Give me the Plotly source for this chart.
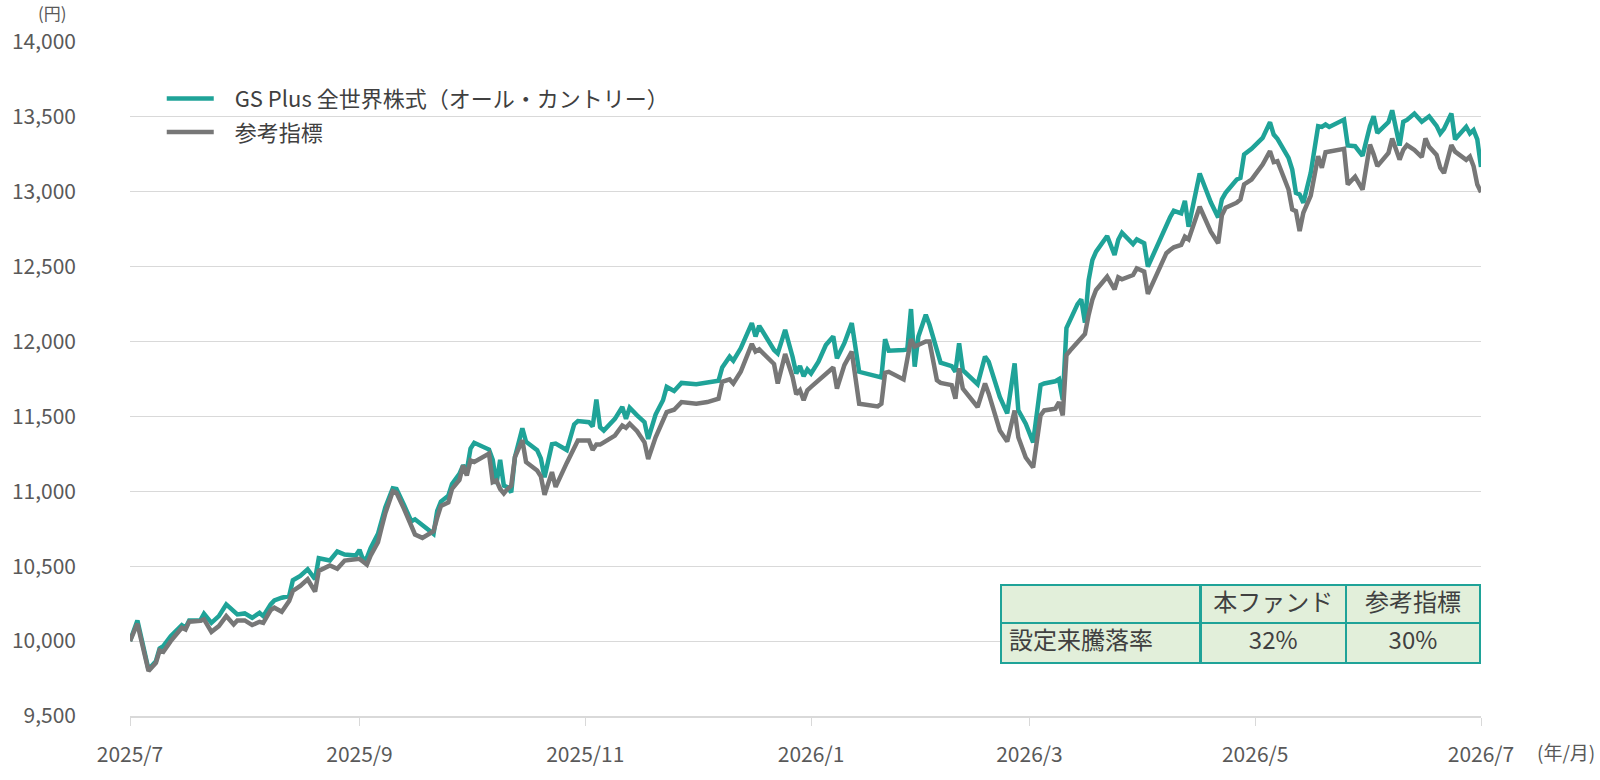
import plotly.graph_objects as go

dates = [
    "2025-07-01","2025-07-03","2025-07-06","2025-07-08","2025-07-09","2025-07-10","2025-07-12","2025-07-15",
    "2025-07-16","2025-07-17","2025-07-20","2025-07-21","2025-07-23","2025-07-25","2025-07-27","2025-07-29",
    "2025-07-30","2025-08-01","2025-08-03","2025-08-05","2025-08-06","2025-08-08","2025-08-09","2025-08-11",
    "2025-08-13","2025-08-14","2025-08-16","2025-08-18","2025-08-20","2025-08-21","2025-08-24","2025-08-26",
    "2025-08-28","2025-08-31","2025-09-01","2025-09-02","2025-09-03","2025-09-04","2025-09-06","2025-09-07",
    "2025-09-08","2025-09-10","2025-09-11","2025-09-13","2025-09-15","2025-09-16","2025-09-18","2025-09-21",
    "2025-09-22","2025-09-23","2025-09-25","2025-09-26","2025-09-28","2025-09-29","2025-09-30","2025-10-01",
    "2025-10-02","2025-10-06","2025-10-07","2025-10-08","2025-10-09","2025-10-10","2025-10-11","2025-10-12",
    "2025-10-13","2025-10-15","2025-10-16","2025-10-19","2025-10-20","2025-10-21","2025-10-23","2025-10-24",
    "2025-10-27","2025-10-29","2025-10-30","2025-11-02","2025-11-03","2025-11-04","2025-11-05","2025-11-06",
    "2025-11-09","2025-11-11","2025-11-12","2025-11-13","2025-11-15","2025-11-17","2025-11-18","2025-11-20",
    "2025-11-22","2025-11-23","2025-11-25","2025-11-27","2025-12-01","2025-12-04","2025-12-07","2025-12-08",
    "2025-12-10","2025-12-11","2025-12-13","2025-12-16","2025-12-17","2025-12-18","2025-12-22","2025-12-23",
    "2025-12-25","2025-12-27","2025-12-28","2025-12-29","2025-12-30","2025-12-31","2026-01-01","2026-01-03",
    "2026-01-05","2026-01-07","2026-01-08","2026-01-10","2026-01-12","2026-01-14","2026-01-19","2026-01-20",
    "2026-01-21","2026-01-22","2026-01-26","2026-01-27","2026-01-28","2026-01-29","2026-01-30","2026-02-01",
    "2026-02-02","2026-02-04","2026-02-05","2026-02-08","2026-02-09","2026-02-10","2026-02-11","2026-02-15",
    "2026-02-17","2026-02-18","2026-02-21","2026-02-23","2026-02-25","2026-02-26","2026-02-28","2026-03-02",
    "2026-03-04","2026-03-05","2026-03-08","2026-03-09","2026-03-10","2026-03-11","2026-03-12","2026-03-14",
    "2026-03-15","2026-03-16","2026-03-17","2026-03-18","2026-03-19","2026-03-22","2026-03-24","2026-03-25",
    "2026-03-26","2026-03-29","2026-03-30","2026-04-01","2026-04-02","2026-04-07","2026-04-08","2026-04-09",
    "2026-04-11","2026-04-12","2026-04-13","2026-04-16","2026-04-19","2026-04-21","2026-04-22","2026-04-23",
    "2026-04-26","2026-04-27","2026-04-28","2026-04-30","2026-05-03","2026-05-05","2026-05-06","2026-05-07",
    "2026-05-10","2026-05-11","2026-05-12","2026-05-13","2026-05-14","2026-05-16","2026-05-18","2026-05-19",
    "2026-05-20","2026-05-21","2026-05-23","2026-05-25","2026-05-26","2026-05-28","2026-05-30","2026-06-01",
    "2026-06-02","2026-06-03","2026-06-06","2026-06-07","2026-06-09","2026-06-10","2026-06-11","2026-06-13",
    "2026-06-15","2026-06-16","2026-06-17","2026-06-19","2026-06-20","2026-06-21","2026-06-23","2026-06-24",
    "2026-06-27","2026-06-28","2026-06-29","2026-06-30","2026-07-01",
]

fund = [
    10000,10138,9810,9866,9951,9966,10033,10107,
    10089,10138,10138,10183,10122,10167,10245,10205,
    10178,10185,10156,10189,10167,10245,10272,10290,
    10301,10406,10435,10480,10413,10553,10538,10598,
    10578,10571,10609,10542,10556,10620,10716,10805,
    10894,11020,11016,10910,10800,10813,10775,10716,
    10869,10932,10971,11049,11117,11173,11139,11286,
    11324,11279,11211,11049,11211,11038,11027,10993,
    11229,11421,11331,11275,11220,11094,11315,11319,
    11276,11447,11469,11462,11433,11612,11428,11406,
    11484,11563,11484,11558,11507,11462,11350,11513,
    11608,11697,11670,11724,11715,11724,11738,11827,
    11899,11872,11955,12123,12034,12105,11944,11921,
    12078,11899,11787,11836,11769,11814,11787,11865,
    11977,12034,11888,11989,12123,11798,11765,11760,
    12016,11939,11944,11948,12217,11832,12034,12179,
    12112,11933,11859,11836,11798,11989,11809,11715,
    11899,11865,11630,11520,11854,11540,11451,11327,
    11709,11720,11735,11749,11611,12090,12140,12250,
    12282,12127,12411,12544,12600,12705,12578,12680,
    12727,12651,12682,12656,12500,12789,12830,12873,
    12856,12940,12767,13122,12930,12829,12949,12993,
    13082,13093,13249,13287,13360,13464,13382,13353,
    13226,13149,12993,12982,12927,13126,13438,13433,
    13449,13433,13460,13482,13309,13304,13240,13438,
    13504,13393,13465,13544,13308,13467,13480,13522,
    13467,13485,13504,13440,13389,13420,13522,13350,
    13434,13389,13412,13350,13165,
]

benchmark = [
    10000,10116,9800,9855,9937,9928,10000,10089,
    10078,10130,10135,10145,10062,10100,10167,10111,
    10138,10138,10107,10129,10122,10207,10223,10196,
    10268,10335,10368,10413,10330,10469,10505,10483,
    10538,10542,10549,10530,10511,10571,10660,10760,
    10855,11000,10990,10885,10760,10712,10689,10734,
    10824,10903,10926,11016,11076,11173,11106,11207,
    11196,11252,11061,11072,11016,10986,11016,11038,
    11229,11342,11196,11139,11100,10977,11128,11030,
    11190,11300,11339,11339,11276,11312,11312,11327,
    11372,11440,11424,11451,11401,11327,11215,11361,
    11473,11529,11545,11596,11585,11596,11619,11731,
    11747,11720,11798,11984,11933,11948,11850,11720,
    11917,11765,11648,11675,11608,11675,11697,11738,
    11787,11827,11686,11843,11933,11585,11567,11585,
    11791,11798,11747,11899,12016,11966,11978,12000,
    12000,11742,11724,11709,11619,11821,11686,11563,
    11720,11652,11406,11333,11540,11361,11226,11159,
    11507,11540,11552,11596,11507,11910,11940,12000,
    12030,12050,12178,12280,12344,12433,12349,12429,
    12416,12444,12489,12467,12318,12590,12611,12629,
    12645,12700,12682,12900,12733,12656,12844,12893,
    12927,12949,13049,13082,13182,13271,13198,13204,
    13015,12882,12871,12738,12860,12975,13238,13160,
    13264,13270,13278,13287,13049,13100,13015,13315,
    13250,13171,13260,13356,13215,13280,13312,13279,
    13231,13356,13300,13246,13160,13125,13312,13268,
    13213,13235,13170,13048,12997,
]

series_names = ["GS Plus 全世界株式（オール・カントリー）", "参考指標"]
table_header = ["", "本ファンド", "参考指標"]
table_row_label = ["設定来騰落率"]
table_fund = ["32%"]
table_bench = ["30%"]

FONT = "Noto Sans CJK JP"
TEAL = "#1FA398"
GRAY = "#777777"
TXT = "#595959"
DARK = "#404040"
LEGEND_PAD = "\u2002\u00a0"

fig = go.Figure()
fig.add_trace(go.Scatter(x=dates, y=fund, name=LEGEND_PAD + series_names[0], mode="lines",
                         line=dict(color=TEAL, width=4.5), legendgroup="a"))
fig.add_trace(go.Scatter(x=dates, y=benchmark, name=LEGEND_PAD + series_names[1], mode="lines",
                         line=dict(color=GRAY, width=4.5), legendgroup="b"))

fig.add_trace(go.Table(
    domain=dict(x=[0.6448, 1.0], y=[0.06, 0.194]),
    columnwidth=[202, 147, 136],
    header=dict(values=table_header, fill_color="#E2EFDA",
                line=dict(color=TEAL, width=2.5),
                font=dict(family=FONT, size=24, color=DARK),
                align="center", height=38),
    cells=dict(values=[table_row_label, table_fund, table_bench], fill_color="#E2EFDA",
               line=dict(color=TEAL, width=2.5),
               font=dict(family=FONT, size=24, color=DARK),
               align=["left", "center", "center"], height=40),
))

fig.update_layout(
    width=1600, height=780,
    margin=dict(l=127, r=119, t=42, b=63),
    paper_bgcolor="white", plot_bgcolor="white",
    font=dict(family=FONT, color=TXT),
    showlegend=True,
    legend=dict(x=0.0235, y=0.947, xanchor="left", yanchor="top",
                font=dict(family=FONT, size=22, color=DARK),
                bgcolor="rgba(0,0,0,0)", tracegroupgap=2, itemwidth=47),
    xaxis=dict(
        type="date", range=["2025-07-01", "2026-07-01"],
        tick0="2025-07-01", dtick="M2", tickformat="%Y/%-m",
        showgrid=False, showline=True, linecolor="#D9D9D9", linewidth=1.5,
        ticks="outside", ticklen=8, tickcolor="#D9D9D9", tickwidth=1,
        tickfont=dict(family=FONT, size=21, color=TXT),
        ticklabelstandoff=11, zeroline=False,
    ),
    yaxis=dict(
        range=[9500, 14000], dtick=500, tickformat=",d",
        showgrid=True, gridcolor="#D9D9D9", gridwidth=1,
        showline=False, zeroline=False, ticks="",
        tickfont=dict(family=FONT, size=21, color=TXT),
        ticklabelstandoff=53,
    ),
    annotations=[
        dict(text="(円)", xref="paper", yref="paper", x=-0.057, y=1.044,
             xanchor="center", yanchor="middle", showarrow=False,
             font=dict(family=FONT, size=17, color=TXT)),
        dict(text="(年/月)", xref="paper", yref="paper", x=1.0628, y=-0.053,
             xanchor="center", yanchor="middle", showarrow=False,
             font=dict(family=FONT, size=19, color=TXT)),
    ],
)

fig.write_html("out.html", config={"displayModeBar": False},
               post_script="document.body.style.margin='0px';")
